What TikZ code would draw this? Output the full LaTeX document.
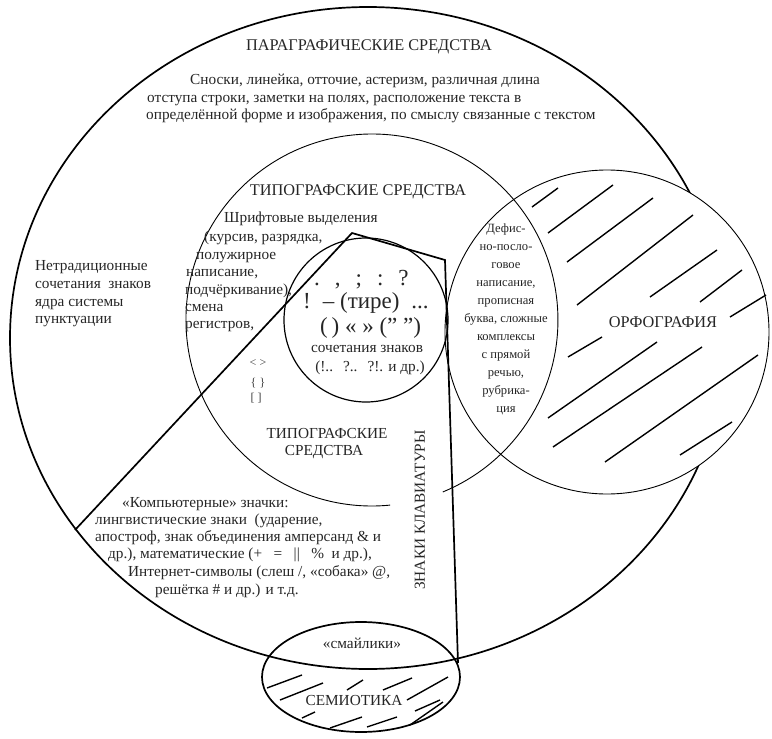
\documentclass[tikz,border=0pt]{standalone}
\usepackage{fontspec}
\setmainfont{Liberation Serif}
\begin{document}
\begin{tikzpicture}[x=1pt,y=-1pt,
  lbl/.style={inner sep=0pt,text=black!85,font=\fontsize{15.3}{18}\selectfont},
  big/.style={inner sep=0pt,text=black!85,font=\fontsize{16.3}{19}\selectfont},
  punct/.style={inner sep=0pt,text=black!85,font=\fontsize{23}{26}\selectfont},
  tiny/.style={inner sep=0pt,text=black!75,font=\fontsize{12}{14}\selectfont},
  bold/.style={line width=1.7pt},
  thin/.style={line width=0.9pt},
  hatch/.style={line width=1.4pt}]
\useasboundingbox (0,0) rectangle (772,739);
% paragraphic ellipse
\draw[bold] (368,338) ellipse [x radius=358, y radius=331];
% orthography circle
\draw[thin,fill=white] (607,332) circle [radius=162];
% typographic circle (gap near label)
\draw[thin] (390.1,505.1) arc[start angle=84.4, end angle=427.6, radius=186];
% punctuation core circle
\draw[line width=1.2pt] (366,320) circle [radius=82];
% keyboard polygon
\coordinate (k1) at (75,530);
\coordinate (k2) at (352,233);
\coordinate (k3) at (445,260);
\coordinate (k4) at (458,663);
\draw[bold,line join=miter] (k1) -- (k2) -- (k3) -- (k4);
% semiotics ellipse
\draw[bold] (361,677) ellipse [x radius=99, y radius=55];
% hatching orthography
\foreach \a/\b/\c/\d in {532/207/558/188, 548/233/613/185, 567/262/653/198, 577/305/693/215,
  650/297/717/250, 700/302/742/270, 730/317/766/295, 568/357/602/337, 548/418/657/342,
  553/447/702/347, 605/462/758/355, 680/455/732/422}
  \draw[hatch] (\a,\b) -- (\c,\d);
% hatching semiotics
\foreach \a/\b/\c/\d in {267/688/302/675, 280/700/323/683, 347/690/363/680, 383/690/412/678,
  407/700/448/677, 302/718/315/712, 330/728/362/717, 367/727/397/717, 410/725/443/702, 415/711/440/700}
  \draw[hatch] (\a,\b) -- (\c,\d);
% texts
\node[big,anchor=base] (pt) at (369,50) {ПАРАГРАФИЧЕСКИЕ СРЕДСТВА};
\node[lbl,anchor=base west] (p1) at (190,84) {Сноски, линейка, отточие, астеризм, различная длина};
\node[lbl,anchor=base west] (p2) at (147,102) {отступа строки, заметки на полях, расположение текста в};
\node[lbl,anchor=base west] (p3) at (146,119) {определённой форме и изображения, по смыслу связанные с текстом};
\node[lbl,anchor=base west] (n1) at (35,270) {Нетрадиционные};
\node[lbl,anchor=base west] (n2) at (35,288) {сочетания\ \ знаков};
\node[lbl,anchor=base west] (n3) at (35,306) {ядра системы};
\node[lbl,anchor=base west] (n4) at (35,323) {пунктуации};
\node[big,anchor=base] (tt) at (358,195) {ТИПОГРАФСКИЕ СРЕДСТВА};
\node[lbl,anchor=base west] (s1) at (224,222) {Шрифтовые выделения};
\node[lbl,anchor=base west] (s2) at (204,241) {(курсив, разрядка,};
\node[lbl,anchor=base west] (s3) at (196,259) {полужирное};
\node[lbl,anchor=base west] (s4) at (186,276) {написание,};
\node[lbl,anchor=base west] (s5) at (185,294) {подчёркивание),};
\node[lbl,anchor=base west] (s6) at (185,311) {смена};
\node[lbl,anchor=base west] (s7) at (185,328) {регистров,};
\node[punct,anchor=base west] (c1) at (314,285) {.\hspace{15pt},\hspace{15pt};\hspace{15pt}:\hspace{15pt}?};
\node[punct,anchor=base west] (c2) at (303,308) {!\hspace{12pt}– (тире)\hspace{12pt}...};
\node[punct,anchor=base west] (c3) at (320,333) {(\,) « » (" ")};
\node[lbl,anchor=base] (c4) at (367,352) {сочетания знаков};
\node[lbl,anchor=base] (c5) at (370,371) {(!..\hspace{10pt}?..\hspace{10pt}?!. и др.)};
\node[tiny,anchor=base] (b1) at (258,366) {< >};
\node[tiny,anchor=base] (b2) at (258,386) {\{ \}};
\node[tiny,anchor=base] (b3) at (256,401) {[ ]};
\node[lbl,anchor=base] (t1) at (327,438) {ТИПОГРАФСКИЕ};
\node[lbl,anchor=base] (t2) at (324,455) {СРЕДСТВА};
\node[lbl,rotate=90,fill=white,inner xsep=12pt,inner ysep=2pt] (kb) at (420,510) {ЗНАКИ КЛАВИАТУРЫ};
\node[lbl,anchor=north,align=center,font=\fontsize{12.6}{18}\selectfont] (df) at (506,224)
  {Дефис-\\но-посло-\\говое\\написание,\\прописная\\буква, сложные\\комплексы\\с прямой\\речью,\\рубрика-\\ция};
\node[big,anchor=base] (orf) at (663,327) {ОРФОГРАФИЯ};
\node[lbl,anchor=base west] (m1) at (122,507) {«Компьютерные» значки:};
\node[lbl,anchor=base west] (m2) at (95,524) {лингвистические знаки\ \ (ударение,};
\node[lbl,anchor=base west] (m3) at (95,541) {апостроф, знак объединения амперсанд \& и};
\node[lbl,anchor=base west] (m4) at (108,558) {др.), математические (+\ \ \ =\ \ \ ||\ \ \ \%\ \ и др.),};
\node[lbl,anchor=base west] (m5) at (128,576) {Интернет-символы (слеш /, «собака» @,};
\node[lbl,anchor=base west] (m6) at (155,594) {решётка \# и др.) и т.д.};
\node[lbl,anchor=base] (sm) at (362,648) {«смайлики»};
\node[lbl,anchor=base] (se) at (354,705) {СЕМИОТИКА};
\end{tikzpicture}
\end{document}
